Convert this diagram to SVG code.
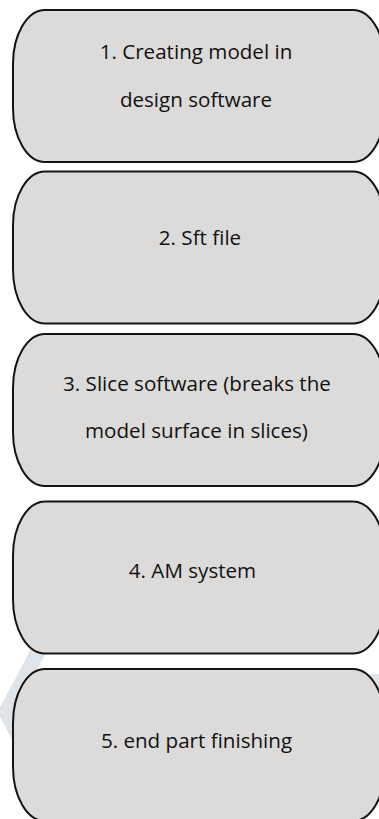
<svg xmlns="http://www.w3.org/2000/svg" width="379" height="819" viewBox="0 0 379 819">
  <style>
    .box { fill: #dcdbda; stroke: #141414; stroke-width: 2; }
    .lbl { font-family: "Open Sans", "Liberation Sans", sans-serif; font-size: 20.6px; fill: #111; text-anchor: middle; }
    .wm { fill: none; stroke: #dfe4e8; stroke-width: 15; stroke-linejoin: miter; }
  </style>
  <defs>
    <path id="pill" d="M32 0 H340 A32 54 0 0 1 372 54 V98 A32 54 0 0 1 340 152 H32 A32 54 0 0 1 0 98 V54 A32 54 0 0 1 32 0 Z"/>
  </defs>
  <rect width="379" height="819" fill="#ffffff"/>
  <g id="watermark">
    <polyline class="wm" points="40,648 6,712 32,762"/>
    <rect x="369" y="674" width="10" height="48" fill="#dfe4e8"/>
  </g>
  <g id="connectors"></g>
  <g id="node1">
    <use href="#pill" class="box" transform="translate(13,10)"/>
    <text class="lbl" x="196" y="58.5">1. Creating model in</text>
    <text class="lbl" x="196" y="106.5">design software</text>
  </g>
  <g id="node2">
    <use href="#pill" class="box" transform="translate(13,171.5)"/>
    <text class="lbl" x="200" y="245">2. Sft file</text>
  </g>
  <g id="node3">
    <use href="#pill" class="box" transform="translate(13,334)"/>
    <text class="lbl" x="197" y="390.5">3. Slice software (breaks the</text>
    <text class="lbl" x="196.5" y="438">model surface in slices)</text>
  </g>
  <g id="node4">
    <use href="#pill" class="box" transform="translate(13,501.5)"/>
    <text class="lbl" x="192.5" y="578">4. AM system</text>
  </g>
  <g id="node5">
    <use href="#pill" class="box" transform="translate(13,669)"/>
    <text class="lbl" x="196.5" y="747.5">5. end part finishing</text>
  </g>
</svg>
